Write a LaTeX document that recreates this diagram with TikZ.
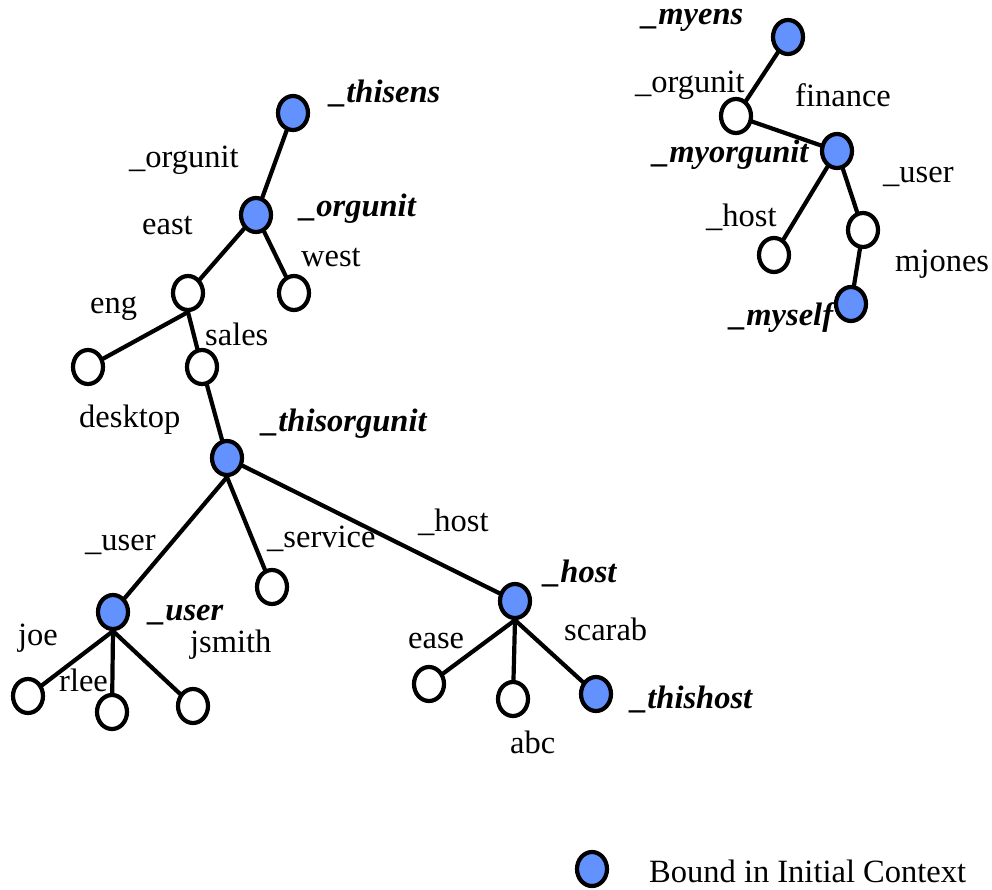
\documentclass[tikz,border=0pt]{standalone}
\usepackage{fontspec}
\setmainfont{Liberation Serif}
\usetikzlibrary{shapes.geometric}
\definecolor{boundblue}{RGB}{99,146,255}
\begin{document}
\begin{tikzpicture}[x=1pt,y=-1pt,
  vert/.style={ellipse,draw=black,line width=4.2pt,fill=white,
    minimum width=30pt,minimum height=34pt,inner sep=0pt},
  bound/.style={vert,fill=boundblue},
  edge/.style={line width=4.2pt,line cap=round},
  lbl/.style={anchor=base west,inner sep=0pt,font=\fontsize{32.5}{38}\selectfont},
  var/.style={lbl,font=\fontsize{32.5}{38}\selectfont\bfseries\itshape}]
\useasboundingbox (0,0) rectangle (992,890);

% ---- main naming tree ----
\node[bound] (thisens) at (293,113) {};
\node[bound] (orgunit) at (256,215) {};
\node[vert] (east) at (188,293) {};
\node[vert] (west) at (294,293) {};
\node[vert] (eng) at (88,367) {};
\node[vert] (sales) at (202,367) {};
\node[bound] (thisorgunit) at (227,458) {};
\node[bound] (user) at (113,612) {};
\node[vert] (service) at (272,587) {};
\node[bound] (host) at (515,601) {};
\node[vert] (joe) at (28,696) {};
\node[vert] (rlee) at (112,712) {};
\node[vert] (jsmith) at (193,706) {};
\node[vert] (ease) at (429,684) {};
\node[vert] (abc) at (513,699) {};
\node[bound] (thishost) at (596,694) {};

\draw[edge] (thisens) -- (orgunit);
\draw[edge] (orgunit) -- (east);
\draw[edge] (orgunit) -- (west);
\draw[edge] (east.south) -- (eng);
\draw[edge] (east.south) -- (sales);
\draw[edge] (sales) -- (thisorgunit);
\draw[edge] (thisorgunit.south) -- (user);
\draw[edge] (thisorgunit.south) -- (service);
\draw[edge] (thisorgunit) -- (host);
\draw[edge] (user.south) -- (joe);
\draw[edge] (user.south) -- (rlee);
\draw[edge] (user.south) -- (jsmith);
\draw[edge] (host.south) -- (ease);
\draw[edge] (host.south) -- (abc);
\draw[edge] (host.south) -- (thishost);

\node[var] (l-thisens) at (330,103) {\_thisens};
\node[lbl] (l-orgunit) at (129,168) {\_orgunit};
\node[var] (l-orgunitv) at (300,217) {\_orgunit};
\node[lbl] (l-east) at (142,235) {east};
\node[lbl] (l-west) at (301,267) {west};
\node[lbl] (l-eng) at (90,313) {eng};
\node[lbl] (l-sales) at (205,345) {sales};
\node[lbl] (l-desktop) at (79,427) {desktop};
\node[var] (l-thisorgunit) at (262,431) {\_thisorgunit};
\node[lbl] (l-user) at (85,550) {\_user};
\node[lbl] (l-service) at (267,547) {\_service};
\node[lbl] (l-host) at (418,531) {\_host};
\node[var] (l-hostv) at (544,582) {\_host};
\node[var] (l-userv) at (149,620) {\_user};
\node[lbl] (l-joe) at (18,645) {joe};
\node[lbl] (l-rlee) at (59,691) {rlee};
\node[lbl] (l-jsmith) at (190,652) {jsmith};
\node[lbl] (l-ease) at (408,648) {ease};
\node[lbl] (l-scarab) at (564,640) {scarab};
\node[lbl] (l-abc) at (510,753) {abc};
\node[var] (l-thishost) at (631,708) {\_thishost};

% ---- personal naming tree ----
\node[bound] (myens) at (788,37) {};
\node[vert] (org2) at (736,116) {};
\node[bound] (myorgunit) at (837,151) {};
\node[vert] (host2) at (774,255) {};
\node[vert] (user2) at (863,230) {};
\node[bound] (myself) at (851,304) {};

\draw[edge] (myens) -- (org2);
\draw[edge] (org2) -- (myorgunit);
\draw[edge] (myorgunit) -- (host2);
\draw[edge] (myorgunit) -- (user2);
\draw[edge] (user2) -- (myself);

\node[var] (l-myens) at (642,25) {\_myens};
\node[lbl] (l-org2) at (635,93) {\_orgunit};
\node[lbl] (l-finance) at (795,107) {finance};
\node[var] (l-myorgunit) at (653,163) {\_myorgunit};
\node[lbl] (l-user2) at (883,183) {\_user};
\node[lbl] (l-host2) at (706,227) {\_host};
\node[lbl] (l-mjones) at (895,272) {mjones};
\node[var] (l-myself) at (730,325) {\_myself};

% ---- legend ----
\node[bound] (key) at (592,869) {};
\node[lbl] (l-key) at (649,882) {Bound in Initial Context};
\end{tikzpicture}
\end{document}
